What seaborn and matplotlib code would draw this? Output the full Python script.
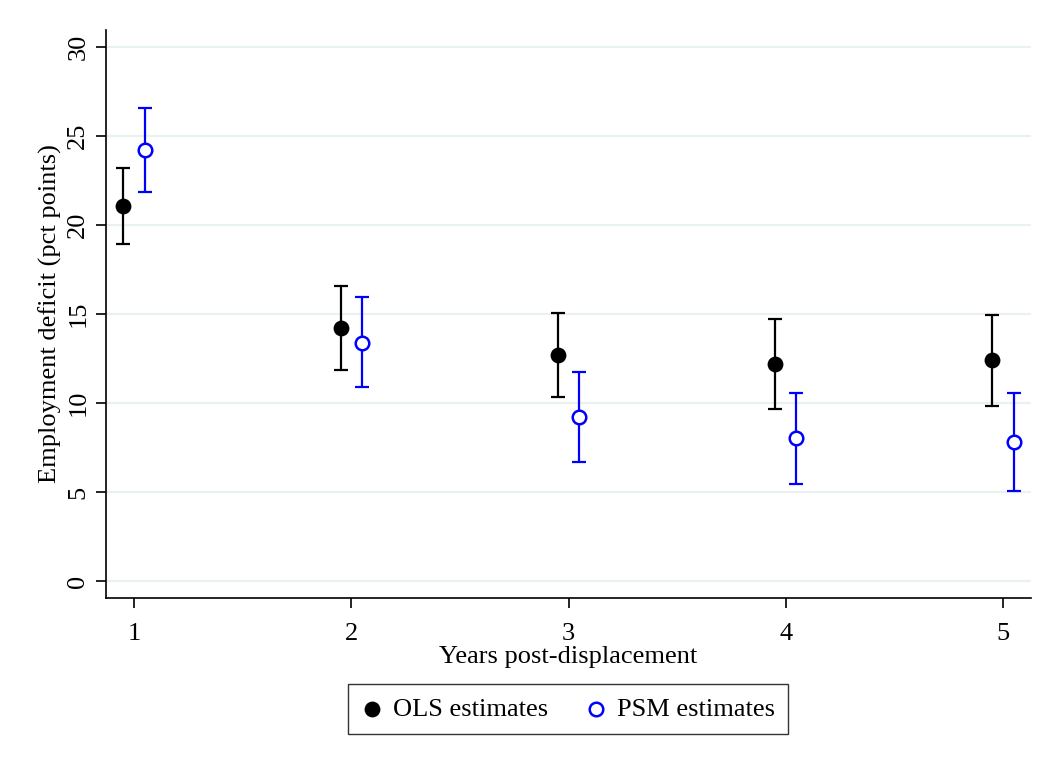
import matplotlib
matplotlib.use("Agg")
import matplotlib.pyplot as plt
import seaborn as sns
import pandas as pd

years = [1, 2, 3, 4, 5]
ols_est = [21.07, 14.21, 12.70, 12.19, 12.42]
ols_lo = [18.93, 11.85, 10.34, 9.66, 9.83]
ols_hi = [23.20, 16.57, 15.06, 14.72, 14.94]
psm_est = [24.21, 13.37, 9.21, 8.03, 7.81]
psm_lo = [21.85, 10.90, 6.69, 5.45, 5.06]
psm_hi = [26.57, 15.96, 11.74, 10.56, 10.56]

sns.set_style("white")
plt.rcParams['font.family'] = ['Liberation Serif', 'DejaVu Serif']
plt.rcParams['text.color'] = 'black'
plt.rcParams['axes.labelcolor'] = 'black'
plt.rcParams['xtick.color'] = 'black'
plt.rcParams['ytick.color'] = 'black'

fig = plt.figure(figsize=(10.59, 7.69), dpi=100)
ax = fig.add_axes([106 / 1059, 1 - 598 / 769, (1031 - 106) / 1059, (598 - 30) / 769])

off = 0.05
df = pd.DataFrame({
    "year": [y - off for y in years] + [y + off for y in years],
    "est": ols_est + psm_est,
    "lo": ols_lo + psm_lo,
    "hi": ols_hi + psm_hi,
    "model": ["OLS estimates"] * 5 + ["PSM estimates"] * 5,
})

for model, color in [("OLS estimates", "black"), ("PSM estimates", "#0000ff")]:
    d = df[df.model == model]
    ax.errorbar(d.year, d.est, yerr=[d.est - d.lo, d.hi - d.est], fmt="none",
                ecolor=color, elinewidth=1.6, capsize=4.8, capthick=1.6, zorder=2)

ols = df[df.model == "OLS estimates"]
psm = df[df.model == "PSM estimates"]
sns.scatterplot(x=ols.year, y=ols.est, ax=ax, color="black", s=130,
                edgecolor="black", linewidth=0, zorder=3, label="OLS estimates")
sns.scatterplot(x=psm.year, y=psm.est, ax=ax, facecolor="white", s=95,
                edgecolor="#0000ff", linewidth=1.8, zorder=3, label="PSM estimates")

ax.set_xlim(0.87, 5.13)
ax.set_ylim(-0.95, 30.95)
ax.set_xticks(years)
ax.set_yticks([0, 5, 10, 15, 20, 25, 30])
ax.grid(axis="y", color="#eaf1f3", linewidth=1.6)
ax.set_axisbelow(True)
for s in ["top", "right"]:
    ax.spines[s].set_visible(False)
for s in ["left", "bottom"]:
    ax.spines[s].set_color("black")
    ax.spines[s].set_linewidth(1.2)
ax.tick_params(axis="both", length=7, width=1.2, color="black", labelsize=19,
               direction="out", bottom=True, left=True, labelcolor="black")
ax.tick_params(axis="x", pad=11)
ax.tick_params(axis="y", pad=5)
plt.setp(ax.get_yticklabels(), rotation=90, va="center")
ax.set_xlabel("Years post-displacement", fontsize=19, labelpad=1)
ax.set_ylabel("Employment deficit (pct points)", fontsize=19, labelpad=4)

handles, labels = ax.get_legend_handles_labels()
ax.get_legend().remove()
leg = fig.legend(handles, labels, loc="center", bbox_to_anchor=(568 / 1059, 1 - 709 / 769),
                 ncol=2, fontsize=19, frameon=True, fancybox=False, edgecolor="black",
                 handletextpad=0.4, columnspacing=1.4, borderpad=0.5, handlelength=0.8,
                 borderaxespad=0.2)
leg.get_frame().set_linewidth(1.0)

fig.savefig("out.png", dpi=100)
